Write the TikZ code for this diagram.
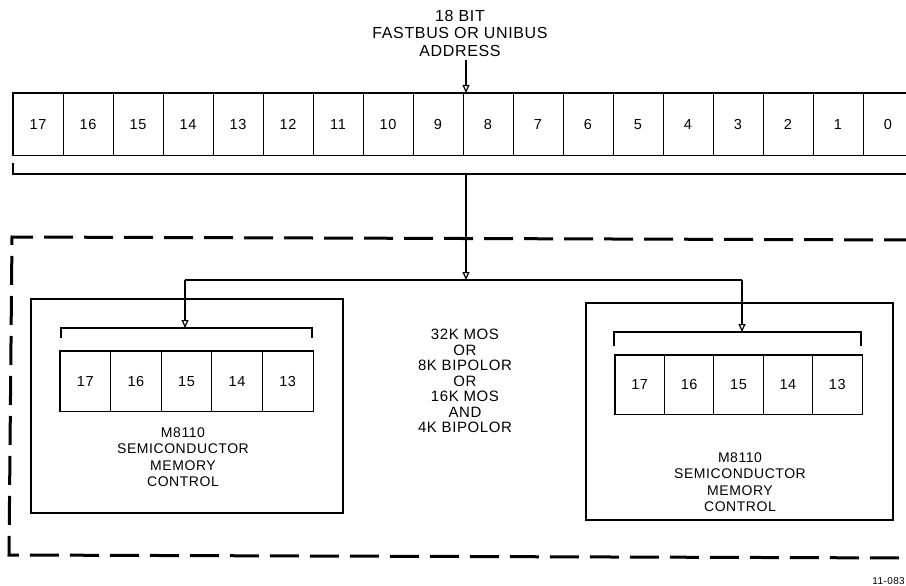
\documentclass[tikz,border=0pt]{standalone}
\usepackage{fontspec}
\setmainfont[LetterSpace=4]{Liberation Sans}
\usetikzlibrary{positioning}
\usetikzlibrary{arrows.meta}
\tikzset{
    cell/.style = {rectangle, draw=black, line width=0.9pt, minimum width=50pt, minimum height=62pt, inner sep=0pt, text height=10.5pt, text depth=0pt, font=\fontsize{14.5}{16}\selectfont},
    lcell/.style = {cell, minimum width=50.6pt, minimum height=60pt},
    rcell/.style = {cell, minimum width=49.4pt, minimum height=59pt},
    frame/.style = {draw=black, line width=1.8pt},
    board/.style = {rectangle, draw=black, line width=1.8pt, inner sep=0pt},
    bracket/.style = {draw=black, line width=1.2pt},
    feed/.style = {draw=black, line width=1.2pt},
    edgea/.style = {-{Triangle[open,length=8pt,width=7pt]}, line width=1.2pt},
    border/.style = {draw=black, line width=3pt, dash pattern=on 29pt off 11pt},
    title/.style = {align=center, inner sep=0pt, font=\fontsize{16}{17.5}\selectfont},
    caption/.style = {align=center, inner sep=0pt, font=\fontsize{14}{16.5}\selectfont},
    choice/.style = {align=center, inner sep=0pt, font=\fontsize{15}{15.5}\selectfont}
}

\begin{document}
\begin{tikzpicture}[x=1pt,y=-1pt]
\useasboundingbox (0,0) rectangle (906,586);
%
\node[title] at (460,33) (addr) {18 BIT\\FASTBUS OR UNIBUS\\ADDRESS};
%
\node[cell] at (38,124) (r17) {17};
\node[cell] at (88,124) (r16) {16};
\node[cell] at (138,124) (r15) {15};
\node[cell] at (188,124) (r14) {14};
\node[cell] at (238,124) (r13) {13};
\node[cell] at (288,124) (r12) {12};
\node[cell] at (338,124) (r11) {11};
\node[cell] at (388,124) (r10) {10};
\node[cell] at (438,124) (r9) {9};
\node[cell] at (488,124) (r8) {8};
\node[cell] at (538,124) (r7) {7};
\node[cell] at (588,124) (r6) {6};
\node[cell] at (638,124) (r5) {5};
\node[cell] at (688,124) (r4) {4};
\node[cell] at (738,124) (r3) {3};
\node[cell] at (788,124) (r2) {2};
\node[cell] at (838,124) (r1) {1};
\node[cell] at (888,124) (r0) {0};
\draw[frame] (r17.north west) rectangle (r0.south east);
%
\coordinate (busin) at (466,93);
\coordinate (topbrl) at (13,163);
\coordinate (topbrr) at (913,174);
\coordinate (tap) at (466,174);
\coordinate (split) at (466,280);
\coordinate (lfeed) at (185,280);
\coordinate (rfeed) at (742,280);
%
\coordinate (dbtr) at (913,240);
\coordinate (dbtl) at (12,237);
\coordinate (dbbl) at (9,555);
\coordinate (dbbr) at (913,558);
\draw[border] (dbtr) -- (dbtl) -- (dbbl) -- (dbbr);
%
\node[board, minimum width=312pt, minimum height=214pt] at (187,406) (lbox) {};
\node[board, minimum width=307pt, minimum height=217pt] at (739.5,411.5) (rbox) {};
%
\node[lcell] at (85.3,381) (l17) {17};
\node[lcell] at (135.9,381) (l16) {16};
\node[lcell] at (186.5,381) (l15) {15};
\node[lcell] at (237.1,381) (l14) {14};
\node[lcell] at (287.7,381) (l13) {13};
\draw[frame] (l17.north west) rectangle (l13.south east);
%
\node[rcell] at (639.7,384.5) (m17) {17};
\node[rcell] at (689.1,384.5) (m16) {16};
\node[rcell] at (738.5,384.5) (m15) {15};
\node[rcell] at (787.9,384.5) (m14) {14};
\node[rcell] at (837.3,384.5) (m13) {13};
\draw[frame] (m17.north west) rectangle (m13.south east);
%
\coordinate (lbrl) at (61,338);
\coordinate (lbrr) at (312,338);
\coordinate (lbrin) at (185,328);
\coordinate (rbrl) at (614,346);
\coordinate (rbrr) at (861,346);
\coordinate (rbrin) at (742,332);
%
\node[caption] at (183,457) (lname) {M8110\\SEMICONDUCTOR\\MEMORY\\CONTROL};
\node[caption] at (740,482) (rname) {M8110\\SEMICONDUCTOR\\MEMORY\\CONTROL};
\node[choice] at (465,381) (sizes) {32K MOS\\OR\\8K BIPOLOR\\OR\\16K MOS\\AND\\4K BIPOLOR};
\node[anchor=east, inner sep=0pt, font=\fontsize{10}{12}\selectfont] at (905,581) (tag) {11-083};
%
\draw[edgea, shorten <=4pt] (addr.south -| busin) -- (busin);
\draw[bracket] (topbrl) |- (topbrr);
\draw[edgea] (tap) -- (split);
\draw[feed] (lfeed) -- (rfeed);
\draw[edgea] (lfeed) -- (lbrin);
\draw[edgea] (rfeed) -- (rbrin);
\draw[bracket] (lbrl) |- (lbrin) -| (lbrr);
\draw[bracket] (rbrl) |- (rbrin) -| (rbrr);
\end{tikzpicture}
\end{document}
